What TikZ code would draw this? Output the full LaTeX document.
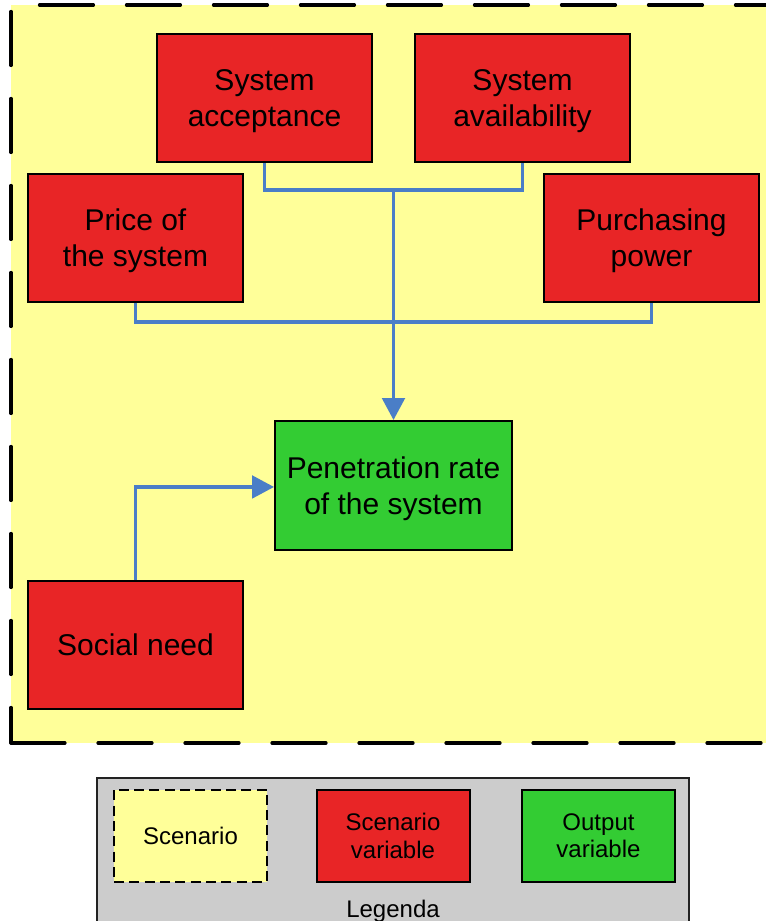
\documentclass[tikz,border=0pt]{standalone}
\usepackage{fontspec}
\setmainfont{Liberation Sans}
\usetikzlibrary{arrows.meta}
\definecolor{scenyellow}{HTML}{FFFF99}
\definecolor{varred}{HTML}{E82526}
\definecolor{outgreen}{HTML}{33CC33}
\definecolor{linkblue}{HTML}{4A7EC7}
\definecolor{legendgray}{HTML}{CCCCCC}
\definecolor{legendedge}{HTML}{222222}
\begin{document}
\begin{tikzpicture}[x=0.75pt,y=-0.75pt,
  varbox/.style={draw=black, line width=1.5pt, fill=varred, align=center,
    minimum width=161.25pt, minimum height=96pt, inner sep=0pt, text depth=0pt,
    font=\fontsize{22.5pt}{27.5pt}\selectfont},
  outbox/.style={varbox, fill=outgreen, minimum width=177.75pt, minimum height=96.75pt},
  legbox/.style={draw=black, line width=1.5pt, align=center,
    minimum width=114.75pt, minimum height=69pt, inner sep=0pt, text depth=0pt,
    font=\fontsize{18pt}{20.8pt}\selectfont},
  conn/.style={draw=linkblue, line width=2.4pt},
  tip/.style={-{Triangle[width=17pt,length=16.5pt]}},
  regionedge/.style={line width=2.4pt, line cap=round,
    dash pattern=on 40.5pt off 24.75pt}
]
\clip (0,0) rectangle (766,921);

% scenario region (its right side runs past the page edge)
\fill[scenyellow] (11,5) rectangle (800,743);
\draw[regionedge, dash phase=43.9pt]  (11,5) -- (800,5);
\draw[regionedge, dash phase=60.4pt]  (11,5) -- (11,743);
\draw[regionedge, dash phase=0pt]     (11,743) -- (800,743);

% scenario variables
\node[varbox] (acc)    at (264.5,98)   {System\\acceptance};
\node[varbox] (avail)  at (522.5,98)   {System\\availability};
\node[varbox] (price)  at (135.5,237.5) {Price of\\the system};
\node[varbox] (purch)  at (651.5,237.5) {Purchasing\\power};
\node[varbox] (social) at (135.5,644.5) {Social need};

% output variable
\node[outbox] (pen) at (393.5,485.5) {Penetration rate\\of the system};

% connectors
\coordinate (j1) at (393.5,190);
\coordinate (j2) at (393.5,322);
\draw[conn] (acc.south) |- (j1) -| (avail.south);
\draw[conn] (price.south) |- (j2) -| (purch.south);
\draw[conn,tip] (j1) -- (pen.north);
\draw[conn,tip] (social.north) |- ([yshift=-1.1pt]pen.west);

% legend
\draw[draw=legendedge, line width=1.5pt, fill=legendgray] (97,778) rectangle (689,960);
\node[legbox, fill=scenyellow, dash pattern=on 7.5pt off 4pt] (lscen) at (190.5,835.5) {Scenario};
\node[legbox, fill=varred] (lvar) at (393,835.5) {Scenario\\variable};
\node[legbox, fill=outgreen] (lout) at (598.5,835.5) {Output\\variable};
\node[font=\fontsize{18pt}{20pt}\selectfont, anchor=base] (leg) at (393,917) {Legenda};
\end{tikzpicture}
\end{document}
